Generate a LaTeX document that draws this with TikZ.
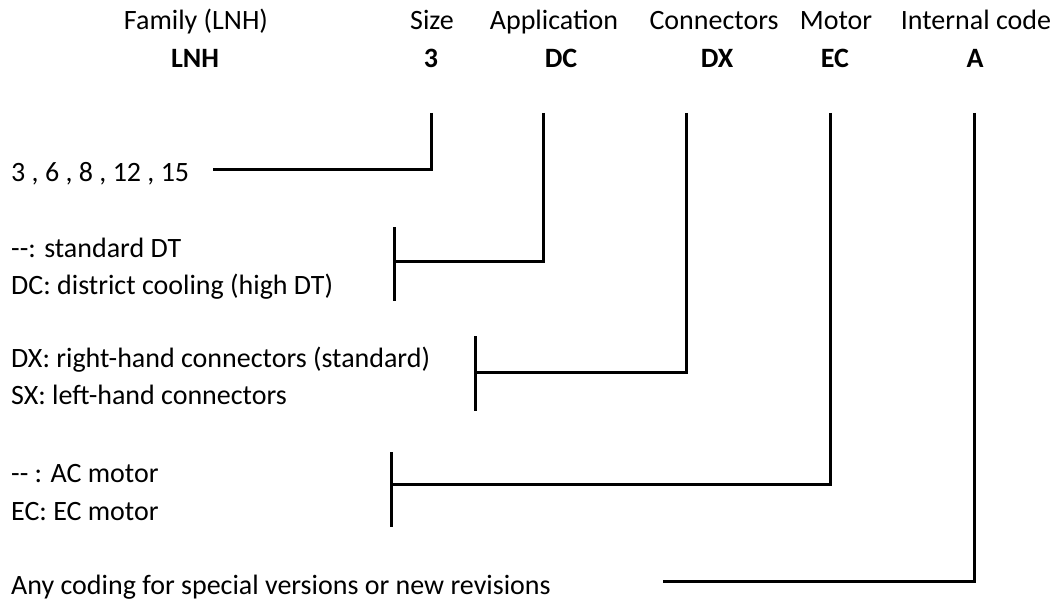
\documentclass[tikz,border=0pt]{standalone}
\usepackage{fontspec}
\setmainfont{Carlito}
\begin{document}
\begin{tikzpicture}[x=1pt,y=-1pt,
  lbl/.style={inner sep=0pt, font=\fontsize{28}{34}\selectfont, anchor=base},
  code/.style={inner sep=0pt, font=\fontsize{28}{34}\selectfont\bfseries, anchor=base},
  opt/.style={inner sep=0pt, font=\fontsize{28}{34}\selectfont, anchor=base west},
  wire/.style={line width=3pt, line join=miter}]
\useasboundingbox[fill=white] (0,0) rectangle (1061,599);
% headers
\node[lbl] (hfam) at (196,30) {Family (LNH)};
\node[lbl] (hsize) at (432,30) {Size};
\node[lbl] (happ) at (554,30) {Application};
\node[lbl] (hcon) at (714,30) {Connectors};
\node[lbl] (hmot) at (836,30) {Motor};
\node[lbl] (hint) at (976,30) {Internal code};
% codes
\node[code] (cfam) at (195,68) {LNH};
\node[code] (csize) at (431,68) {3};
\node[code] (capp) at (561,68) {DC};
\node[code] (ccon) at (717,68) {DX};
\node[code] (cmot) at (835,68) {EC};
\node[code] (cint) at (975,68) {A};
% options
\node[opt] (osize) at (11,182) {3 , 6 , 8 , 12 , 15};
\node[opt] (oapp1) at (11,257) {-{}-: standard DT};
\node[opt] (oapp2) at (11,294) {DC: district cooling (high DT)};
\node[opt] (ocon1) at (11,367) {DX: right-hand connectors (standard)};
\node[opt] (ocon2) at (11,404) {SX: left-hand connectors};
\node[opt] (omot1) at (11,482) {-{}- : AC motor};
\node[opt] (omot2) at (11,520) {EC: EC motor};
\node[opt] (oint) at (11,594) {Any coding for special versions or new revisions};
% connector coordinates
\coordinate (sizeT) at (431,113); \coordinate (sizeC) at (431,170); \coordinate (sizeE) at (213,170);
\coordinate (appT) at (543,113); \coordinate (appC) at (543,261); \coordinate (appE) at (394,261);
\coordinate (appB1) at (394,227); \coordinate (appB2) at (394,301);
\coordinate (conT) at (686,113); \coordinate (conC) at (686,372); \coordinate (conE) at (475,372);
\coordinate (conB1) at (475,336); \coordinate (conB2) at (475,411);
\coordinate (motT) at (830,113); \coordinate (motC) at (830,484); \coordinate (motE) at (391,484);
\coordinate (motB1) at (391,452); \coordinate (motB2) at (391,527);
\coordinate (intT) at (974,113); \coordinate (intC) at (974,581); \coordinate (intE) at (663,581);
% connectors
\draw[wire] (sizeT) -- (sizeC) -- (sizeE);
\draw[wire] (appT) -- (appC) -- (appE);
\draw[wire] (appB1) -- (appB2);
\draw[wire] (conT) -- (conC) -- (conE);
\draw[wire] (conB1) -- (conB2);
\draw[wire] (motT) -- (motC) -- (motE);
\draw[wire] (motB1) -- (motB2);
\draw[wire] (intT) -- (intC) -- (intE);
\end{tikzpicture}
\end{document}
